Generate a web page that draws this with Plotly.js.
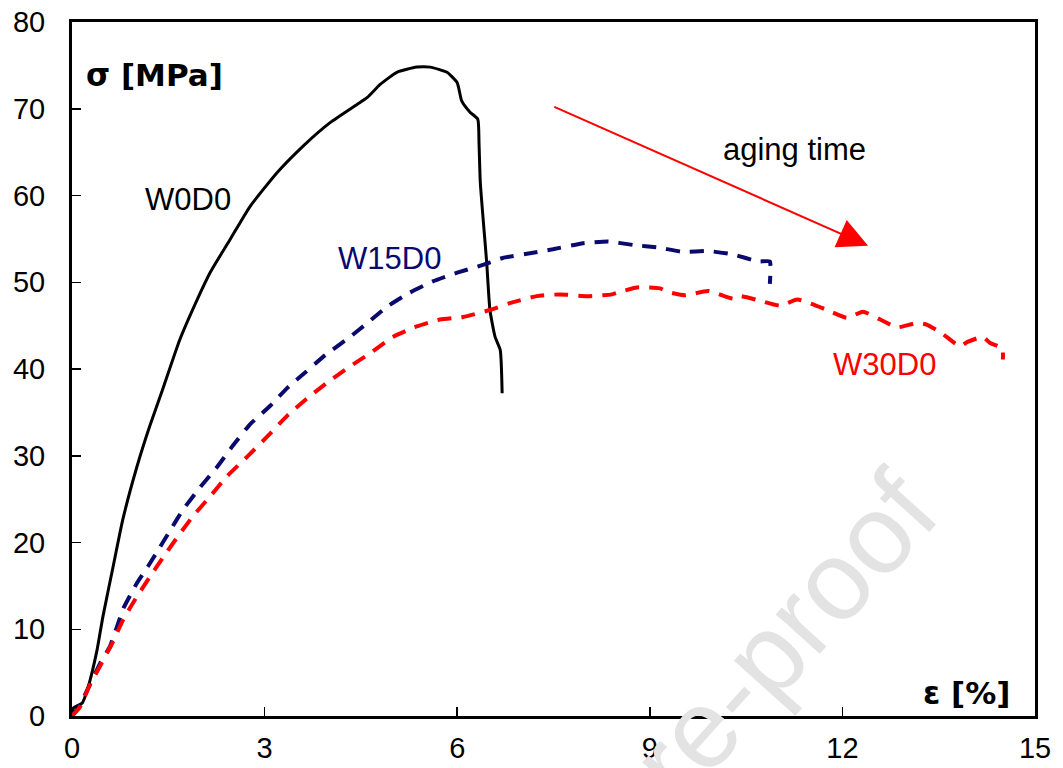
<!DOCTYPE html>
<html><head><meta charset="utf-8">
<script src="https://cdn.plot.ly/plotly-3.0.1.min.js"></script>
<style>html,body{margin:0;padding:0;background:#fff}#chart{width:1063px;height:768px}</style>
</head><body><div id="chart"></div>
<script>
// W0D0 (unaged) — strain [%] and stress [MPa]
const w0d0_strain = [0, 0.02, 0.16, 0.25, 0.39, 0.48, 0.64, 0.79, 1.01, 1.21, 1.41, 1.68, 1.95, 2.15, 2.46, 2.77, 3.19, 3.60, 4.02, 4.44, 4.60, 4.80, 5.06, 5.37, 5.58, 5.84, 6.00, 6.07, 6.20, 6.32, 6.34, 6.36, 6.46, 6.51, 6.59, 6.67, 6.70];
const w0d0_stress = [0, 0.9, 1.5, 3.3, 7.6, 11.4, 17.2, 22.6, 28.7, 33.4, 37.6, 43.4, 48.0, 51.1, 54.9, 58.7, 62.6, 65.7, 68.4, 70.5, 71.3, 72.8, 74.2, 74.8, 74.8, 74.2, 73.0, 70.9, 69.6, 68.8, 66.0, 61.5, 52.2, 46.8, 43.7, 42.2, 37.2];

// W15D0
const w15d0_strain = [0, 0.12, 0.25, 0.44, 0.59, 0.72, 0.80, 1.01, 1.18, 1.34, 1.53, 1.73, 2.00, 2.26, 2.51, 2.77, 3.08, 3.35, 3.65, 3.91, 4.33, 4.60, 4.91, 5.26, 5.62, 6.00, 6.40, 6.71, 7.18, 7.49, 7.96, 8.35, 8.74, 9.13, 9.52, 9.91, 10.30, 10.69, 10.87, 10.87];
const w15d0_stress = [0, 1.2, 3.2, 6.1, 8.0, 10.7, 12.4, 15.3, 17.2, 19.1, 21.4, 23.8, 26.4, 28.7, 31.2, 33.6, 35.7, 37.8, 39.7, 41.4, 43.7, 45.3, 47.2, 48.8, 50.1, 51.1, 52.0, 52.8, 53.4, 53.8, 54.5, 54.7, 54.3, 54.0, 53.5, 53.6, 53.2, 52.4, 52.4, 49.8];

// W30D0
const w30d0_strain = [0, 0.12, 0.28, 0.44, 0.62, 0.79, 0.98, 1.21, 1.42, 1.64, 1.88, 2.15, 2.41, 2.73, 3.04, 3.35, 3.66, 3.97, 4.33, 4.64, 5.00, 5.37, 5.73, 6.09, 6.51, 6.82, 7.24, 7.60, 8.02, 8.41, 8.54, 8.80, 9.16, 9.27, 9.55, 9.91, 10.30, 10.40, 10.70, 11.03, 11.30, 11.76, 12.07, 12.32, 12.59, 12.85, 13.16, 13.32, 13.57, 13.83, 13.94, 14.19, 14.30, 14.49, 14.50];
const w30d0_stress = [0, 1.0, 3.6, 5.8, 8.3, 11.0, 13.4, 16.0, 18.3, 20.6, 23.0, 25.3, 27.6, 29.9, 32.2, 34.6, 36.6, 38.4, 40.3, 41.8, 43.7, 44.9, 45.7, 46.0, 46.8, 47.6, 48.4, 48.6, 48.4, 48.6, 48.9, 49.4, 49.3, 48.9, 48.5, 49.0, 48.1, 48.4, 47.9, 47.3, 48.0, 46.8, 45.9, 46.6, 45.7, 44.8, 45.3, 45.1, 44.0, 42.6, 43.1, 43.7, 43.0, 42.4, 41.1];

const xTicks = [0, 3, 6, 9, 12, 15];
const yTicks = [0, 10, 20, 30, 40, 50, 60, 70, 80];

const traces = [
  {x: w0d0_strain, y: w0d0_stress, type: 'scatter', mode: 'lines', name: 'W0D0',
   line: {color: '#000000', width: 3, shape: 'spline', smoothing: 0.5}},
  {x: w15d0_strain, y: w15d0_stress, type: 'scatter', mode: 'lines', name: 'W15D0',
   line: {color: '#0a0a6e', width: 4, dash: '14px,10px', shape: 'spline', smoothing: 0.4}},
  {x: w30d0_strain, y: w30d0_stress, type: 'scatter', mode: 'lines', name: 'W30D0',
   line: {color: '#ff0000', width: 4, dash: '14px,10px', shape: 'spline', smoothing: 0.5}}
];

const tickFont = {family: 'Liberation Sans, Arial, sans-serif', size: 29, color: '#000'};
const labelFont = {family: 'Liberation Sans, Arial, sans-serif', size: 31};

const layout = {
  width: 1063, height: 768,
  margin: {l: 72, r: 28, t: 22, b: 52},
  paper_bgcolor: '#ffffff', plot_bgcolor: '#ffffff',
  showlegend: false,
  xaxis: {range: [0, 15], tickvals: xTicks, ticktext: xTicks.map(String),
    ticks: 'inside', ticklen: 9, tickwidth: 1.5, tickcolor: '#000',
    showline: true, linewidth: 3, linecolor: '#000', mirror: true,
    showgrid: false, zeroline: false, tickfont: tickFont, ticklabelstandoff: 4},
  yaxis: {range: [0, 80], tickvals: yTicks, ticktext: yTicks.map(String),
    ticks: 'inside', ticklen: 9, tickwidth: 1.5, tickcolor: '#000',
    showline: true, linewidth: 3, linecolor: '#000', mirror: true,
    showgrid: false, zeroline: false, tickfont: tickFont, ticklabelstandoff: 18},
  annotations: [
    {x: 0.5753, y: -0.138, xref: 'paper', yref: 'paper', xanchor: 'center', yanchor: 'middle',
     text: 'Journal Pre-proof', showarrow: false, textangle: -48,
     font: {family: 'Liberation Sans, Arial, sans-serif', size: 112, color: '#e3e3e3'}},
    {x: 1.28, y: 73.9, xref: 'x', yref: 'y', text: 'σ [MPa]', showarrow: false,
     font: {family: 'DejaVu Sans, sans-serif', size: 31, color: '#000', weight: 'bold'}},
    {x: 13.94, y: 2.6, xref: 'x', yref: 'y', text: 'ε [%]', showarrow: false,
     font: {family: 'DejaVu Sans, sans-serif', size: 31, color: '#000', weight: 'bold'}},
    {x: 1.81, y: 59.5, xref: 'x', yref: 'y', text: 'W0D0', showarrow: false,
     font: Object.assign({}, labelFont, {color: '#000'})},
    {x: 4.95, y: 52.7, xref: 'x', yref: 'y', text: 'W15D0', showarrow: false,
     font: Object.assign({}, labelFont, {color: '#0a0a6e'})},
    {x: 12.65, y: 40.5, xref: 'x', yref: 'y', text: 'W30D0', showarrow: false,
     font: Object.assign({}, labelFont, {color: '#ff0000'})},
    {x: 11.26, y: 65.3, xref: 'x', yref: 'y', text: 'aging time', showarrow: false,
     font: Object.assign({}, labelFont, {color: '#000'})},
    {x: 12.40, y: 54.2, xref: 'x', yref: 'y', ax: 7.49, ay: 70.3, axref: 'x', ayref: 'y',
     text: '', showarrow: true, arrowhead: 2, arrowsize: 3, arrowwidth: 2, arrowcolor: '#ff0000', standoff: 0}
  ]
};

Plotly.newPlot('chart', traces, layout, {displayModeBar: false, staticPlot: true});
</script>
</body></html>
